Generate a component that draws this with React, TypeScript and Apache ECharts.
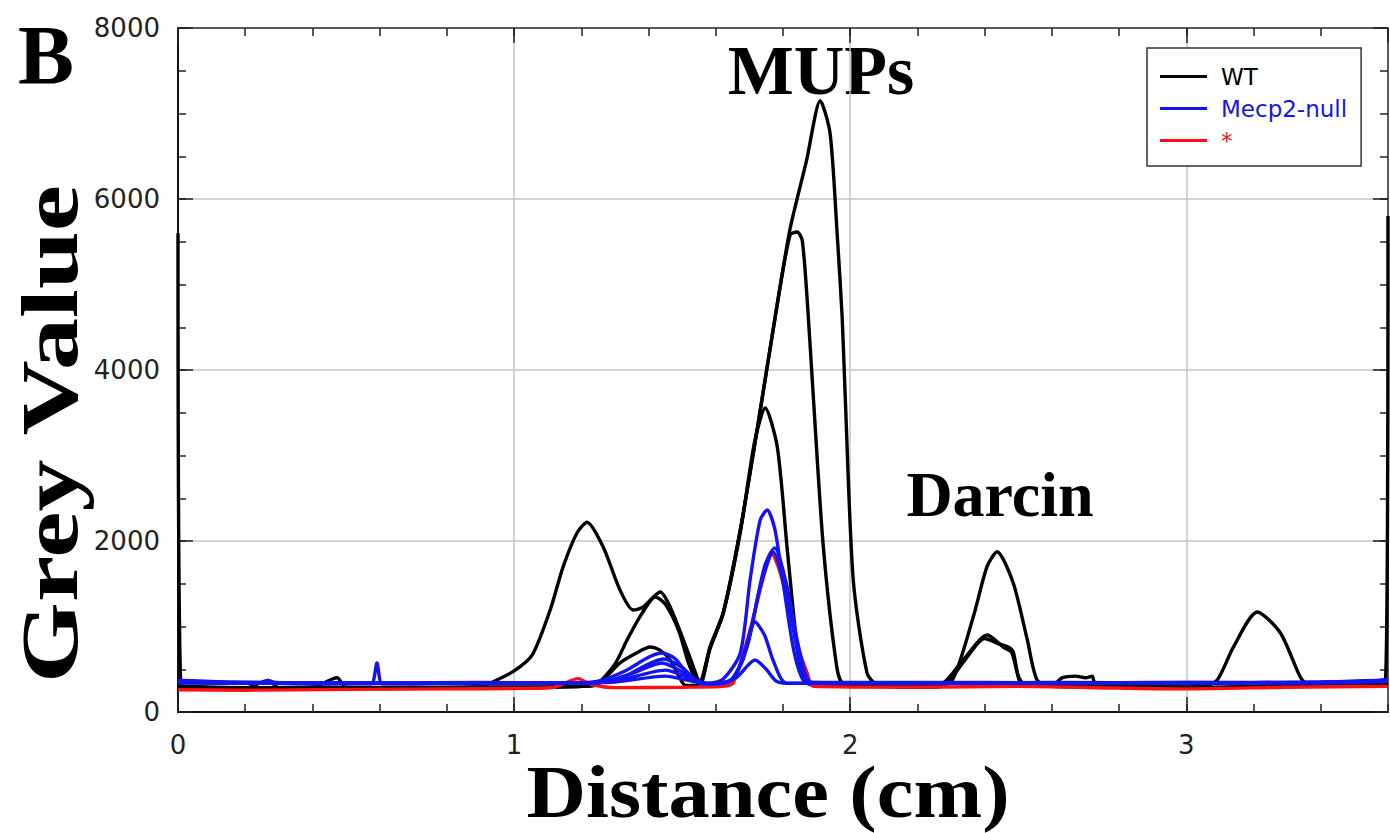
import React, { useEffect, useRef } from "react";
import * as echarts from "echarts";

type P = [number, number];

// ---- tick values ----
const X_MIN = 0;
const X_MAX = 3.6;
const X_MAJOR = 1;
const X_MINOR = 0.2;
const Y_MIN = 0;
const Y_MAX = 8000;
const Y_MAJOR = 2000;
const Y_MINOR = 500;

// ---- legend names ----
const NAME_WT = "WT";
const NAME_NULL = "Mecp2-null";
const NAME_STAR = "*";

// ---- WT lanes (black) ----
const wt1: P[] = [
  [0, 5600], [0.008, 320], [0.05, 290], [0.15, 285], [0.3, 280], [0.45, 290], [0.6, 275],
  [0.75, 285], [0.9, 300], [0.93, 340], [1.0, 480], [1.054, 667], [1.107, 1190], [1.146, 1700],
  [1.187, 2094], [1.217, 2220], [1.265, 1930], [1.315, 1427], [1.354, 1193], [1.384, 1228],
  [1.435, 1404], [1.464, 1230], [1.515, 725], [1.545, 400], [1.555, 330], [1.583, 760],
  [1.622, 1158], [1.673, 2130], [1.723, 3300], [1.78, 4700], [1.821, 5650], [1.87, 6450],
  [1.911, 7150], [1.94, 6770], [1.961, 5600], [1.976, 4620], [1.985, 3700], [2.009, 1544],
  [2.05, 456], [2.08, 320], [2.15, 300], [2.25, 290], [2.304, 374], [2.366, 1111],
  [2.407, 1700], [2.437, 1875], [2.485, 1508], [2.527, 842], [2.556, 374], [2.6, 300],
  [2.8, 290], [3.0, 280], [3.2, 300], [3.4, 320], [3.55, 340], [3.6, 350],
];
const wt2: P[] = [
  [0, 300], [0.1, 290], [0.2, 280], [0.268, 370], [0.3, 285], [0.5, 280], [0.7, 290],
  [0.9, 285], [1.1, 290], [1.2, 300], [1.247, 330], [1.3, 560], [1.336, 842], [1.38, 1150],
  [1.42, 1345], [1.45, 1260], [1.49, 950], [1.52, 560], [1.55, 330], [1.583, 760],
  [1.622, 1158], [1.673, 2130], [1.723, 3300], [1.78, 4700], [1.821, 5580], [1.842, 5614],
  [1.857, 5520], [1.872, 4820], [1.89, 3700], [1.92, 1930], [1.96, 526], [1.98, 330],
  [2.1, 300], [2.2, 290], [2.277, 340], [2.336, 608], [2.408, 900], [2.455, 760], [2.48, 700],
  [2.497, 456], [2.51, 330], [2.7, 300], [2.9, 290], [3.05, 300], [3.092, 374], [3.14, 760],
  [3.211, 1170], [3.28, 924], [3.339, 410], [3.36, 330], [3.5, 330], [3.592, 350], [3.6, 5800],
];
const wt3: P[] = [
  [0, 290], [0.2, 285], [0.4, 290], [0.473, 400], [0.5, 290], [0.7, 280], [0.9, 290],
  [1.1, 295], [1.2, 300], [1.247, 320], [1.315, 573], [1.36, 680], [1.405, 760], [1.435, 720],
  [1.464, 608], [1.49, 420], [1.51, 310], [1.55, 320], [1.583, 740], [1.622, 1150],
  [1.673, 2100], [1.715, 3150], [1.747, 3555], [1.783, 3100], [1.812, 1930], [1.842, 760],
  [1.86, 410], [1.88, 320], [2.1, 300], [2.28, 330], [2.336, 580], [2.4, 860], [2.44, 800],
  [2.47, 760], [2.485, 700], [2.5, 420], [2.52, 320], [2.6, 310], [2.63, 400], [2.67, 420],
  [2.7, 400], [2.72, 420], [2.73, 320], [2.9, 300], [3.1, 290], [3.3, 310], [3.5, 320],
  [3.6, 330],
];

// ---- Mecp2-null lanes (blue) ----
const null1: P[] = [
  [0, 370], [0.08, 360], [0.15, 350], [0.25, 340], [0.268, 370], [0.29, 340], [0.4, 330],
  [0.5, 335], [0.575, 330], [0.592, 573], [0.608, 330], [0.7, 330], [0.85, 340], [1.0, 340],
  [1.15, 335], [1.25, 360], [1.33, 480], [1.4, 640], [1.44, 690], [1.48, 620], [1.52, 420],
  [1.56, 330], [1.62, 380], [1.673, 690], [1.702, 1544], [1.732, 2245], [1.753, 2362],
  [1.775, 2150], [1.792, 1742], [1.83, 760], [1.86, 374], [1.9, 340], [2.1, 340], [2.4, 345],
  [2.7, 340], [3.0, 335], [3.3, 345], [3.55, 360], [3.6, 380],
];
const null2: P[] = [
  [0, 350], [0.2, 340], [0.5, 330], [0.8, 335], [1.1, 340], [1.25, 345], [1.35, 450],
  [1.44, 573], [1.5, 470], [1.56, 330], [1.64, 360], [1.693, 760], [1.732, 1462],
  [1.771, 1870], [1.812, 1345], [1.851, 573], [1.88, 340], [2.2, 340], [2.6, 345], [3.0, 340],
  [3.4, 345], [3.6, 370],
];
const null3: P[] = [
  [0, 340], [0.3, 335], [0.6, 340], [0.9, 330], [1.15, 340], [1.3, 360], [1.45, 490],
  [1.52, 400], [1.58, 330], [1.64, 350], [1.68, 600], [1.717, 1053], [1.745, 900],
  [1.771, 600], [1.81, 340], [2.2, 335], [2.6, 340], [3.0, 345], [3.4, 340], [3.6, 360],
];
const null4: P[] = [
  [0, 345], [0.3, 340], [0.6, 335], [0.9, 340], [1.15, 335], [1.3, 350], [1.45, 420],
  [1.53, 360], [1.6, 330], [1.66, 400], [1.717, 608], [1.75, 500], [1.78, 360], [1.81, 335],
  [2.2, 340], [2.6, 335], [3.0, 340], [3.4, 350], [3.6, 365],
];
const null5: P[] = [
  [0, 355], [0.3, 345], [0.6, 340], [0.9, 345], [1.15, 340], [1.3, 370], [1.445, 620],
  [1.5, 520], [1.56, 330], [1.65, 380], [1.7, 900], [1.745, 1700], [1.775, 1920], [1.81, 1500],
  [1.85, 700], [1.885, 350], [2.2, 345], [2.6, 340], [3.0, 345], [3.4, 350], [3.6, 375],
];

// ---- * lane (red) ----
const star1: P[] = [
  [0, 260], [0.2, 255], [0.5, 265], [0.8, 270], [1.0, 275], [1.12, 290], [1.19, 390],
  [1.23, 320], [1.3, 285], [1.5, 290], [1.62, 300], [1.652, 340], [1.702, 960], [1.74, 1550],
  [1.765, 1870], [1.79, 1650], [1.822, 1158], [1.85, 700], [1.872, 456], [1.89, 300],
  [2.2, 290], [2.5, 300], [2.8, 280], [3.0, 270], [3.3, 290], [3.6, 300],
];

const C_WT = "#000000";
const C_NULL = "#1414f0";
const C_STAR = "#ff1010";

const lanes: { name: string; color: string; data: P[] }[] = [
  { name: NAME_WT, color: C_WT, data: wt1 },
  { name: NAME_WT, color: C_WT, data: wt2 },
  { name: NAME_WT, color: C_WT, data: wt3 },
  { name: NAME_STAR, color: C_STAR, data: star1 },
  { name: NAME_NULL, color: C_NULL, data: null1 },
  { name: NAME_NULL, color: C_NULL, data: null2 },
  { name: NAME_NULL, color: C_NULL, data: null3 },
  { name: NAME_NULL, color: C_NULL, data: null4 },
  { name: NAME_NULL, color: C_NULL, data: null5 },
];

const serif = "'Liberation Serif', 'Times New Roman', serif";
const sans = "'DejaVu Sans', Verdana, sans-serif";

function xAx(interval: number, position: string, opts: any) {
  return {
    type: "value",
    min: X_MIN,
    max: X_MAX,
    interval,
    position,
    axisLine: { show: false, onZero: false },
    axisTick: { show: true, inside: true, length: 8, lineStyle: { color: "#222", width: 1.5 } },
    axisLabel: { show: false },
    splitLine: { show: false },
    ...opts,
  };
}
function yAx(interval: number, position: string, opts: any) {
  return {
    type: "value",
    min: Y_MIN,
    max: Y_MAX,
    interval,
    position,
    axisLine: { show: false, onZero: false },
    axisTick: { show: true, inside: true, length: 8, lineStyle: { color: "#222", width: 1.5 } },
    axisLabel: { show: false },
    splitLine: { show: false },
    ...opts,
  };
}

export default function App() {
  const ref = useRef<HTMLDivElement>(null);
  useEffect(() => {
    if (!ref.current) return;
    const chart = echarts.init(ref.current, undefined, { renderer: "svg" });
    const labelStyle = {
      show: true,
      fontFamily: sans,
      fontSize: 26,
      color: "#222",
      formatter: (v: number) => String(v),
    };
    chart.setOption({
      animation: false,
      backgroundColor: "#ffffff",
      grid: { left: 178, right: 2, top: 28, bottom: 121, containLabel: false },
      xAxis: [
        xAx(X_MINOR, "bottom", {
          axisLine: { show: true, onZero: false, lineStyle: { color: "#111", width: 2 } },
        }),
        xAx(X_MAJOR, "bottom", {
          axisTick: { show: true, inside: true, length: 15, lineStyle: { color: "#222", width: 1.5 } },
          axisLabel: { ...labelStyle, margin: 20, showMaxLabel: false },
          splitLine: { show: true, lineStyle: { color: "#c4c4c4", width: 1.5 } },
        }),
        xAx(X_MINOR, "top", {
          axisLine: { show: true, onZero: false, lineStyle: { color: "#333", width: 1.5 } },
        }),
        xAx(X_MAJOR, "top", {
          axisTick: { show: true, inside: true, length: 15, lineStyle: { color: "#222", width: 1.5 } },
        }),
      ],
      yAxis: [
        yAx(Y_MINOR, "left", {
          axisLine: { show: true, onZero: false, lineStyle: { color: "#111", width: 2 } },
        }),
        yAx(Y_MAJOR, "left", {
          axisTick: { show: true, inside: true, length: 15, lineStyle: { color: "#222", width: 1.5 } },
          axisLabel: { ...labelStyle, margin: 18 },
          splitLine: { show: true, lineStyle: { color: "#c4c4c4", width: 1.5 } },
        }),
        yAx(Y_MINOR, "right", {
          axisLine: { show: true, onZero: false, lineStyle: { color: "#333", width: 1.5 } },
        }),
        yAx(Y_MAJOR, "right", {
          axisTick: { show: true, inside: true, length: 15, lineStyle: { color: "#222", width: 1.5 } },
        }),
      ],
      legend: {
        orient: "vertical",
        left: 1147,
        top: 48,
        padding: [16, 14, 13, 13],
        itemGap: 7,
        itemWidth: 56,
        itemHeight: 3,
        icon: "path://M0,0H47V3H0ZM56,0H56.05V3H56Z",
        borderColor: "#333",
        borderWidth: 1.5,
        backgroundColor: "#ffffff",
        selectedMode: false,
        textStyle: { fontFamily: sans, fontSize: 23, lineHeight: 25 },
        data: [
          { name: NAME_WT, textStyle: { color: C_WT } },
          { name: NAME_NULL, textStyle: { color: C_NULL } },
          { name: NAME_STAR, textStyle: { color: C_STAR } },
        ],
      },
      graphic: [
        {
          type: "text", x: 46, y: 55,
          style: { text: "B", x: 0, y: 0, textAlign: "center", textVerticalAlign: "middle", align: "center", verticalAlign: "middle", fontFamily: serif, fontWeight: "bold", fontSize: 84, fill: "#000" },
        },
        {
          type: "text", x: 821, y: 70,
          style: { text: "MUPs", x: 0, y: 0, textAlign: "center", textVerticalAlign: "middle", align: "center", verticalAlign: "middle", fontFamily: serif, fontWeight: "bold", fontSize: 70, fill: "#000" },
        },
        {
          type: "text", x: 1000, y: 494,
          style: { text: "Darcin", x: 0, y: 0, textAlign: "center", textVerticalAlign: "middle", align: "center", verticalAlign: "middle", fontFamily: serif, fontWeight: "bold", fontSize: 64, fill: "#000" },
        },
        {
          type: "text", x: 768, y: 793, scaleX: 1.13,
          style: { text: "Distance (cm)", x: 0, y: 0, textAlign: "center", textVerticalAlign: "middle", align: "center", verticalAlign: "middle", fontFamily: serif, fontWeight: "bold", fontSize: 73, fill: "#000" },
        },
        {
          type: "text", x: 50, y: 434, rotation: Math.PI / 2, scaleX: 1.3,
          style: { text: "Grey Value", x: 0, y: 0, textAlign: "center", textVerticalAlign: "middle", align: "center", verticalAlign: "middle", fontFamily: serif, fontWeight: "bold", fontSize: 80, fill: "#000" },
        },
      ],
      series: lanes.map((l) => ({
        name: l.name,
        type: "line",
        xAxisIndex: 0,
        yAxisIndex: 0,
        data: l.data,
        smooth: 0.25,
        symbol: "none",
        color: l.color,
        lineStyle: { color: l.color, width: 3.4 },
        emphasis: { disabled: true },
      })),
    });
    return () => chart.dispose();
  }, []);
  return (
    <div
      ref={ref}
      style={{ position: "absolute", left: 0, top: 0, width: 1390, height: 833, background: "#fff" }}
    />
  );
}
